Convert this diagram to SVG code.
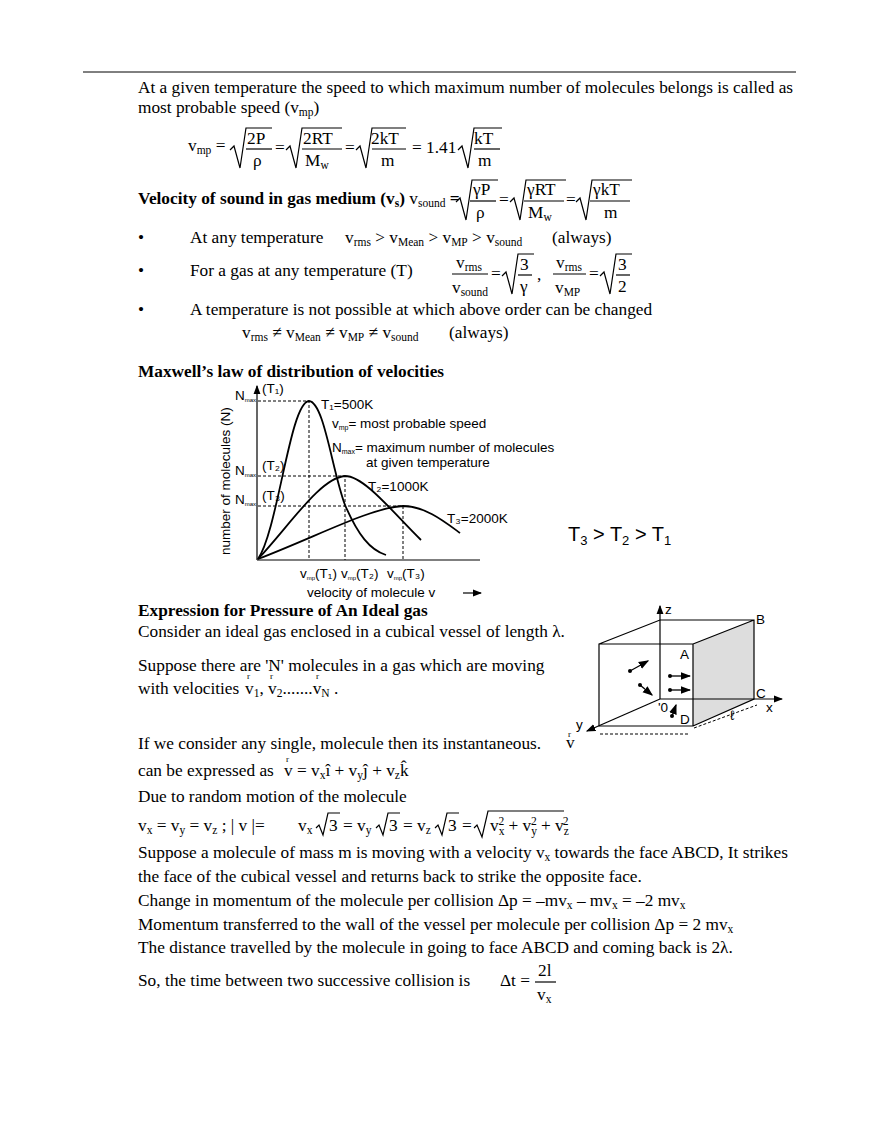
<svg xmlns="http://www.w3.org/2000/svg" width="880" height="1139" viewBox="0 0 880 1139">
<style>
text{font-family:"Liberation Serif",serif;font-size:17.3px;fill:#000}
.s{font-size:11.5px}
.r{font-size:9px}
.b{font-weight:bold}
.g{font-family:"Liberation Sans",sans-serif;font-size:13.5px}
.ln{stroke:#000;stroke-width:1.2;fill:none}
.d{stroke:#000;stroke-width:1;stroke-dasharray:3 2;fill:none}
.c{stroke:#000;stroke-width:1.8;fill:none}
</style>
<defs>
<marker id="ah" markerWidth="8" markerHeight="8" refX="7" refY="4" orient="auto"><path d="M0,1 L8,4 L0,7 Z" fill="#000"/></marker>
</defs>
<rect width="880" height="1139" fill="#fff"/>
<line x1="83" y1="72" x2="796" y2="72" stroke="#000"/>
<text x="138" y="93">At a given temperature the speed to which maximum number of molecules belongs is called as</text>
<text x="138" y="113">most probable speed (v<tspan class="s" dy="3">mp</tspan><tspan dy="-3">)</tspan></text>
<!-- vmp formula -->
<text x="188" y="151">v<tspan class="s" dy="3">mp</tspan><tspan dy="-3"> =</tspan></text>
<path class="ln" d="M230,150 l4,-4 l6,22 l6,-40 h26"/><line class="ln" x1="246" y1="149" x2="272" y2="149"/>
<text x="247" y="144">2P</text><text x="253" y="166">ρ</text>
<text x="275" y="153">=</text>
<path class="ln" d="M286,150 l4,-4 l6,22 l6,-40 h40"/><line class="ln" x1="302" y1="149" x2="342" y2="149"/>
<text x="303" y="144">2RT</text><text x="305" y="166">M<tspan class="s" dy="3">w</tspan></text>
<text x="345" y="153">=</text>
<path class="ln" d="M356,150 l4,-4 l6,22 l6,-40 h34"/><line class="ln" x1="372" y1="149" x2="406" y2="149"/>
<text x="371" y="144">2kT</text><text x="381" y="166">m</text>
<text x="412" y="153">= 1.41</text>
<path class="ln" d="M458,150 l4,-4 l6,22 l6,-40 h28"/><line class="ln" x1="474" y1="149" x2="500" y2="149"/>
<text x="474" y="144">kT</text><text x="478" y="166">m</text>
<!-- sound -->
<text x="138" y="204"><tspan class="b">Velocity of sound in gas medium (v<tspan class="s" dy="3">s</tspan><tspan dy="-3">)</tspan></tspan> v<tspan class="s" dy="3">sound</tspan><tspan dy="-3" class="b"> =</tspan></text>
<path class="ln" d="M456,202 l4,-4 l6,22 l6,-40 h26"/><line class="ln" x1="470" y1="201" x2="496" y2="201"/>
<text x="473" y="195">γP</text><text x="476" y="218">ρ</text>
<text x="499" y="205">=</text>
<path class="ln" d="M510,202 l4,-4 l6,22 l6,-40 h40"/><line class="ln" x1="524" y1="201" x2="564" y2="201"/>
<text x="527" y="195">γRT</text><text x="528" y="218">M<tspan class="s" dy="3">w</tspan></text>
<text x="566" y="205">=</text>
<path class="ln" d="M576,202 l4,-4 l6,22 l6,-40 h40"/><line class="ln" x1="590" y1="201" x2="630" y2="201"/>
<text x="593" y="195">γkT</text><text x="604" y="218">m</text>
<!-- bullets -->
<text x="138" y="243">•</text>
<text x="190" y="243">At any temperature</text>
<text x="345" y="243">v<tspan class="s" dy="3">rms</tspan><tspan dy="-3"> &gt; v</tspan><tspan class="s" dy="3">Mean</tspan><tspan dy="-3"> &gt; v</tspan><tspan class="s" dy="3">MP</tspan><tspan dy="-3"> &gt; v</tspan><tspan class="s" dy="3">sound</tspan></text>
<text x="552" y="243">(always)</text>
<text x="138" y="276">•</text>
<text x="190" y="276">For a gas at any temperature (T)</text>
<text x="456" y="268">v<tspan class="s" dy="3">rms</tspan></text>
<line class="ln" x1="452" y1="274" x2="488" y2="274"/>
<text x="452" y="293">v<tspan class="s" dy="3">sound</tspan></text>
<text x="491" y="279">=</text>
<path class="ln" d="M502,276 l4,-4 l6,22 l6,-40 h16"/><line class="ln" x1="518" y1="275" x2="532" y2="275"/>
<text x="520" y="270">3</text><text x="520" y="292">γ</text>
<text x="537" y="280">,</text>
<text x="556" y="268">v<tspan class="s" dy="3">rms</tspan></text>
<line class="ln" x1="553" y1="274" x2="586" y2="274"/>
<text x="555" y="293">v<tspan class="s" dy="3">MP</tspan></text>
<text x="589" y="279">=</text>
<path class="ln" d="M600,276 l4,-4 l6,22 l6,-40 h16"/><line class="ln" x1="616" y1="275" x2="630" y2="275"/>
<text x="618" y="270">3</text><text x="618" y="292">2</text>
<text x="138" y="315">•</text>
<text x="190" y="315">A temperature is not possible at which above order can be changed</text>
<text x="242" y="338">v<tspan class="s" dy="3">rms</tspan><tspan dy="-3"> ≠ v</tspan><tspan class="s" dy="3">Mean</tspan><tspan dy="-3"> ≠ v</tspan><tspan class="s" dy="3">MP</tspan><tspan dy="-3"> ≠ v</tspan><tspan class="s" dy="3">sound</tspan></text>
<text x="449" y="338">(always)</text>
<text x="138" y="377" class="b">Maxwell’s law of distribution of velocities</text>
<!-- graph -->
<g id="graph">
<line class="ln" x1="257" y1="560" x2="257" y2="386" marker-end="url(#ah)"/>
<line class="ln" x1="257" y1="560" x2="480" y2="560"/>
<path class="c" d="M258,559 C278,530 290,402 309,401 C324,402 332,470 345,505 C358,535 370,550 386,555"/>
<path class="c" d="M258,559 C290,525 320,478 345,476 C365,476 395,515 421,540"/>
<path class="c" d="M258,559 C320,535 370,508 403,506 C425,506 445,522 460,533"/>
<path class="d" d="M258,401 H309 V560 M258,476 H345 V560 M258,506 H403 V560"/>
<text class="g" x="235" y="400" font-size="12">N<tspan font-size="6" dy="2">max</tspan></text>
<text class="g" x="262" y="393" font-size="9">(T₁)</text>
<text class="g" x="235" y="475" font-size="12">N<tspan font-size="6" dy="2">max</tspan></text>
<text class="g" x="262" y="470" font-size="9">(T₂)</text>
<text class="g" x="235" y="504" font-size="12">N<tspan font-size="6" dy="2">max</tspan></text>
<text class="g" x="262" y="500" font-size="9">(T₃)</text>
<text class="g" x="321" y="409" font-size="11">T₁=500K</text>
<text class="g" x="332" y="428">v<tspan font-size="7" dy="2">mp</tspan><tspan dy="-2">= most probable speed</tspan></text>
<text class="g" x="332" y="452">N<tspan font-size="7" dy="2">max</tspan><tspan dy="-2">= maximum number of molecules</tspan></text>
<text class="g" x="366" y="467">at given temperature</text>
<text class="g" x="368" y="491" font-size="11">T₂=1000K</text>
<text class="g" x="447" y="523" font-size="11">T₃=2000K</text>
<text class="g" x="300" y="578" font-size="10">v<tspan font-size="6" dy="2">mp</tspan><tspan dy="-2">(T₁)</tspan></text>
<text class="g" x="341" y="578" font-size="10">v<tspan font-size="6" dy="2">mp</tspan><tspan dy="-2">(T₂)</tspan></text>
<text class="g" x="387" y="578" font-size="10">v<tspan font-size="6" dy="2">mp</tspan><tspan dy="-2">(T₃)</tspan></text>
<text class="g" x="307" y="597">velocity of molecule  v</text>
<line class="ln" x1="463" y1="593" x2="481" y2="593" marker-end="url(#ah)"/>
<text class="g" transform="translate(230,555) rotate(-90)">number of molecules (N)</text>
</g>
<text x="568" y="541" style="font-family:'Liberation Sans',sans-serif;font-size:20px">T<tspan font-size="13" dy="4">3</tspan><tspan dy="-4"> &gt; T</tspan><tspan font-size="13" dy="4">2</tspan><tspan dy="-4"> &gt; T</tspan><tspan font-size="13" dy="4">1</tspan></text>
<!-- pressure -->
<text x="138" y="616" class="b">Expression for Pressure of An Ideal gas</text>
<text x="138" y="637">Consider an ideal gas enclosed in a cubical vessel of length λ.</text>
<text x="138" y="671">Suppose there are 'N' molecules in a gas which are moving</text>
<text x="138" y="694">with velocities</text>
<text x="245" y="694">v<tspan class="s" dy="3">1</tspan><tspan dy="-3">, v</tspan><tspan class="s" dy="3">2</tspan><tspan dy="-3">.......v</tspan><tspan class="s" dy="3">N</tspan><tspan dy="-3"> .</tspan></text>
<text x="247" y="679" class="r">r</text><text x="270" y="679" class="r">r</text><text x="316" y="679" class="r">r</text>
<!-- cube -->
<g id="cube">
<polygon points="693,644 754,620 754,699 693,726" fill="#ddd"/>
<path class="ln" d="M599,644 H693 V726 H599 Z M599,644 L660,620 H754 V699 L693,726 M693,644 L754,620"/>
<line class="ln" x1="660" y1="699" x2="660" y2="606" marker-end="url(#ah)"/>
<line class="ln" x1="660" y1="699" x2="782" y2="699" marker-end="url(#ah)"/>
<line class="ln" x1="660" y1="699" x2="587" y2="731" marker-end="url(#ah)"/>
<g stroke="#000" stroke-width="1.3">
<line x1="630" y1="671" x2="648" y2="661" marker-end="url(#ah)"/>
<line x1="640" y1="685" x2="652" y2="695" marker-end="url(#ah)"/>
<line x1="670" y1="676" x2="690" y2="676" marker-end="url(#ah)"/>
<line x1="670" y1="690" x2="690" y2="690" marker-end="url(#ah)"/>
<line x1="672" y1="716" x2="676" y2="705" marker-end="url(#ah)"/>
</g>
<g fill="#000"><circle cx="630" cy="671" r="2"/><circle cx="640" cy="685" r="2"/><circle cx="670" cy="676" r="2"/><circle cx="670" cy="690" r="2"/><circle cx="672" cy="716" r="2"/></g>
<path class="d" d="M600,734 H690 M694,728 L757,705"/>
<text class="g" x="665" y="614">z</text>
<text class="g" x="756" y="624">B</text>
<text class="g" x="680" y="659">A</text>
<text class="g" x="756" y="698">C</text>
<text class="g" x="680" y="724">D</text>
<text class="g" x="658" y="712">'0</text>
<text class="g" x="766" y="712">x</text>
<text class="g" x="576" y="729">y</text>
<text class="g" x="730" y="720">ℓ</text>
</g>
<text x="138" y="749">If we consider any single, molecule then its instantaneous.</text>
<text x="566" y="748">v</text>
<text x="568" y="737" class="r">r</text>
<text x="138" y="776">can be expressed as</text>
<text x="284" y="776">v = v<tspan class="s" dy="3">x</tspan><tspan dy="-3">î + v</tspan><tspan class="s" dy="3">y</tspan><tspan dy="-3">ĵ + v</tspan><tspan class="s" dy="3">z</tspan><tspan dy="-3">k̂</tspan></text>
<text x="286" y="762" class="r">r</text>
<text x="138" y="802">Due to random motion of the molecule</text>
<text x="138" y="831">v<tspan class="s" dy="3">x</tspan><tspan dy="-3"> = v</tspan><tspan class="s" dy="3">y</tspan><tspan dy="-3"> = v</tspan><tspan class="s" dy="3">z</tspan><tspan dy="-3"> ; | v |=</tspan></text>
<text x="298" y="831">v<tspan class="s" dy="3">x</tspan></text>
<path class="ln" d="M316,828 l3,-3 l4,10 l5,-22 h12"/><text x="329" y="831">3</text>
<text x="343" y="831">= v<tspan class="s" dy="3">y</tspan></text>
<path class="ln" d="M376,828 l3,-3 l4,10 l5,-22 h12"/><text x="389" y="831">3</text>
<text x="403" y="831">= v<tspan class="s" dy="3">z</tspan></text>
<path class="ln" d="M435,828 l3,-3 l4,10 l5,-22 h12"/><text x="448" y="831">3</text>
<text x="462" y="831">=</text>
<path class="ln" d="M474,828 l3,-3 l5,12 l6,-26 h76"/>
<text x="490" y="831">v<tspan class="s" dy="4">x</tspan><tspan class="s" dy="-10" dx="-6">2</tspan><tspan dy="6"> + v</tspan><tspan class="s" dy="4">y</tspan><tspan class="s" dy="-10" dx="-6">2</tspan><tspan dy="6"> + v</tspan><tspan class="s" dy="4">z</tspan><tspan class="s" dy="-10" dx="-6">2</tspan></text>
<text x="138" y="858">Suppose a molecule of mass m is moving with a velocity v<tspan class="s" dy="3">x</tspan><tspan dy="-3"> towards the face ABCD, It strikes</tspan></text>
<text x="138" y="882">the face of the cubical vessel and returns back to strike the opposite face.</text>
<text x="138" y="906">Change in momentum of the molecule per collision  Δp = –mv<tspan class="s" dy="3">x</tspan><tspan dy="-3"> – mv</tspan><tspan class="s" dy="3">x</tspan><tspan dy="-3"> = –2 mv</tspan><tspan class="s" dy="3">x</tspan></text>
<text x="138" y="930">Momentum transferred to the wall of the vessel per molecule per collision  Δp = 2 mv<tspan class="s" dy="3">x</tspan></text>
<text x="138" y="953">The distance travelled by the molecule in going to face ABCD and coming back is 2λ.</text>
<text x="138" y="986">So, the time between two successive collision is</text>
<text x="500" y="986">Δt =</text>
<text x="538" y="976">2l</text>
<line class="ln" x1="535" y1="982" x2="556" y2="982"/>
<text x="537" y="1000">v<tspan class="s" dy="3">x</tspan></text>
</svg>
